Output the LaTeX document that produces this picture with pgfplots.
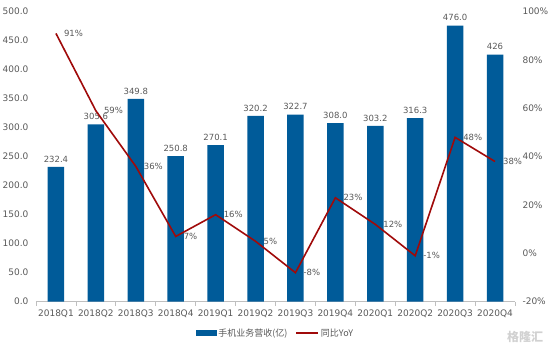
\documentclass[border=0pt]{standalone}
\usepackage{fontspec}
\setmainfont{DejaVu Sans}
\newfontfamily\cjk{Noto Sans CJK SC}
\usepackage{pgfplots}
\pgfplotsset{compat=1.18}
\definecolor{barblue}{RGB}{0,91,153}
\definecolor{linered}{RGB}{160,10,10}
\definecolor{tickgray}{RGB}{89,89,89}
\definecolor{axisgray}{RGB}{191,191,191}
\begin{document}
\begin{tikzpicture}[x=1pt,y=1pt]
\pgfplotsset{
 common/.style={
  at={(36pt,48.3pt)}, anchor=south west,
  scale only axis, width=479pt, height=290pt,
  xmin=-0.5, xmax=11.5,
  ticklabel style={font=\fontsize{9}{10}\selectfont, text=tickgray},
  /pgf/number format/assume math mode=true,
  major tick length=0pt,
  clip=false,
 }
}
\begin{axis}[common,
  ymin=0, ymax=500, ytick={0,50,...,500},
  yticklabel style={/pgf/number format/fixed, /pgf/number format/fixed zerofill, /pgf/number format/precision=1, xshift=-4pt},
  axis x line*=bottom, axis y line*=left,
  y axis line style={draw=none},
  x axis line style={draw=axisgray, line width=0.8pt, -},
  xtick={0,...,11},
  xticklabels={2018Q1,2018Q2,2018Q3,2018Q4,2019Q1,2019Q2,2019Q3,2019Q4,2020Q1,2020Q2,2020Q3,2020Q4},
  xticklabel style={yshift=-5pt},
  extra x ticks={-0.5,0.5,...,11.5}, extra x tick labels={},
  extra x tick style={major tick length=4pt, tick align=outside, tick style={draw=axisgray, line width=0.8pt}},
]
\addplot[ybar, bar width=16.5pt, fill=barblue, draw=none,
  nodes near coords, point meta=explicit symbolic,
  every node near coord/.append style={font=\fontsize{8.5}{10}\selectfont, text=tickgray, yshift=1pt}]
coordinates {
(0,232.4)[232.4] (1,305.6)[305.6] (2,349.8)[349.8] (3,250.8)[250.8]
(4,270.1)[270.1] (5,320.2)[320.2] (6,322.7)[322.7] (7,308.0)[308.0]
(8,303.2)[303.2] (9,316.3)[316.3] (10,476.0)[476.0] (11,426)[426]
};
\end{axis}
\begin{axis}[common,
  ymin=-20, ymax=100, ytick={-20,0,...,100},
  axis y line*=right, axis x line=none,
  y axis line style={draw=none},
  yticklabel={\pgfmathprintnumber{\tick}\%},
  yticklabel style={xshift=4pt},
  legend columns=2,
  legend style={draw=none, fill=none, at={(0.5,-0.108)}, anchor=center,
    font=\fontsize{9}{10}\selectfont, text=tickgray,
    /tikz/every even column/.append style={column sep=6pt}},
]
\addlegendimage{legend image code/.code={\fill[barblue] (0pt,-2.5pt) rectangle (20pt,2.5pt);}}
\addlegendentry{\cjk 手机业务营收(亿)}
\addplot[linered, line width=1.6pt, mark=none,
  legend image code/.code={\draw[linered, line width=1.6pt] (0pt,0pt) -- (22pt,0pt);},
  nodes near coords, point meta=explicit symbolic,
  every node near coord/.append style={anchor=west, xshift=4pt, font=\fontsize{8.5}{10}\selectfont, text=tickgray}]
coordinates {
(0,91)[91\%] (1,59)[59\%] (2,36)[36\%] (3,7)[7\%] (4,16)[16\%] (5,5)[5\%]
(6,-8)[-8\%] (7,23)[23\%] (8,12)[12\%] (9,-1)[-1\%] (10,48)[48\%] (11,38)[38\%]
};
\addlegendentry{\cjk 同比YoY}
\end{axis}
\node[text=black!18, font=\cjk\fontsize{12}{12}\selectfont\bfseries] at (525,13) {格隆汇};
\pgfresetboundingbox
\path (0,0) rectangle (554,350);
\end{tikzpicture}
\end{document}
